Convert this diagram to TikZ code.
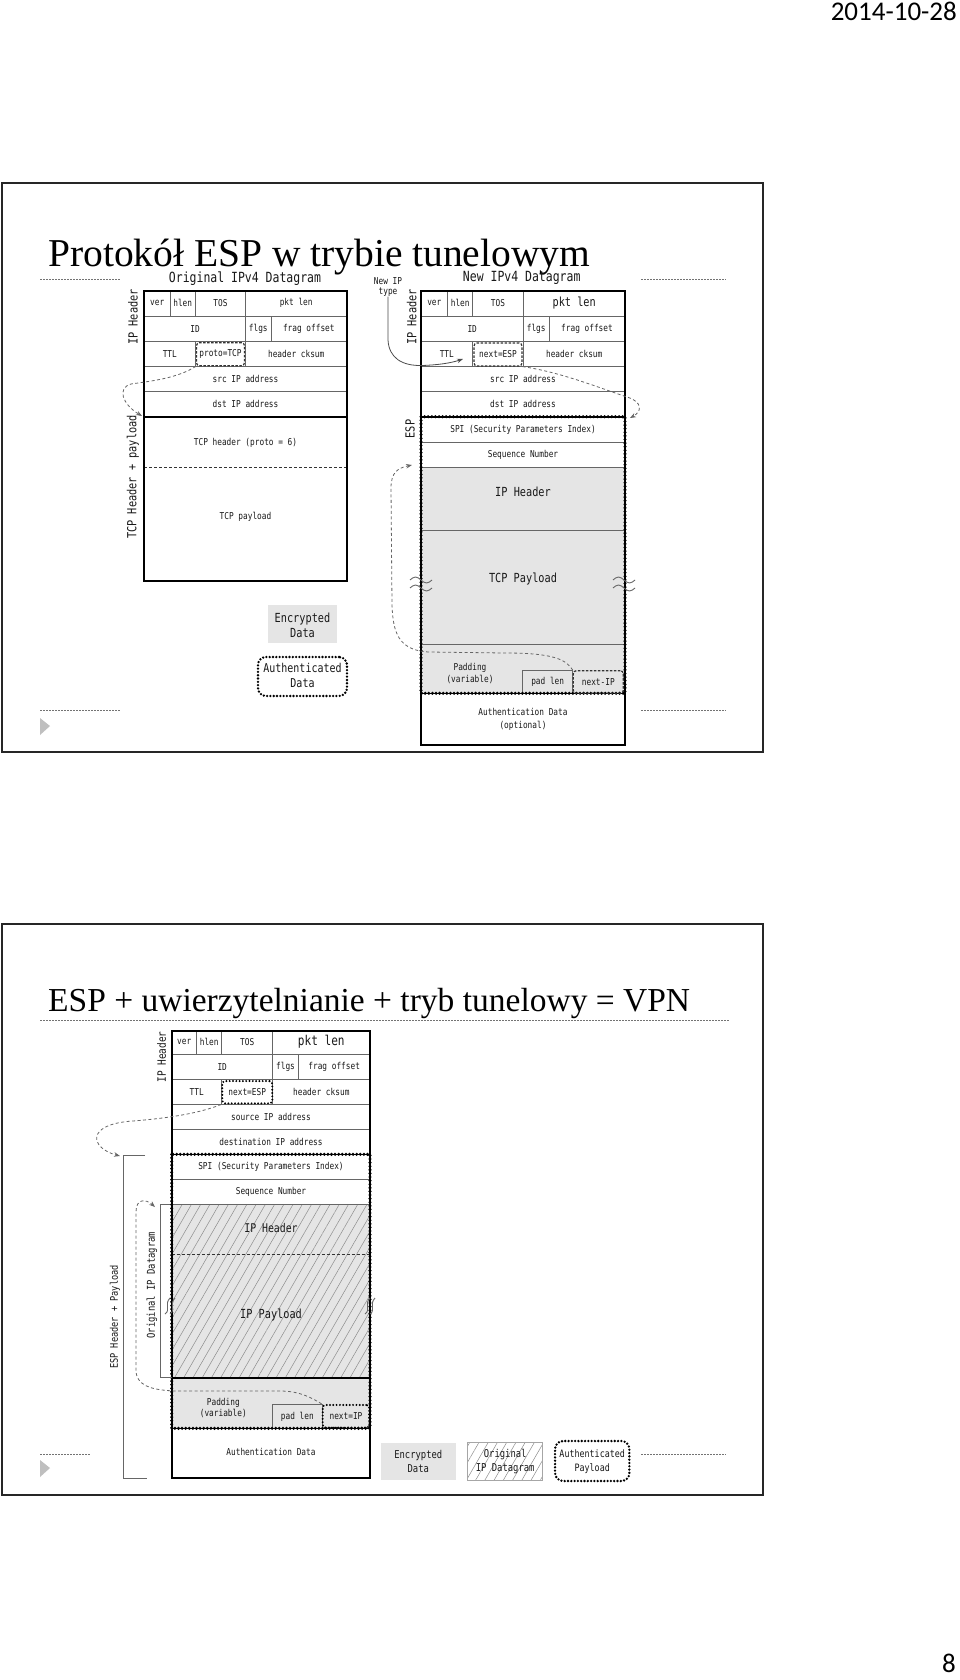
\documentclass[tikz,border=0pt]{standalone}
\usepackage{fontspec}
\setmainfont{Liberation Serif}
\newfontfamily\dm[FakeStretch=0.82]{DejaVu Sans Mono}
\newfontfamily\calf{Carlito}
\usetikzlibrary{arrows.meta,patterns.meta}
\begin{document}
\begin{tikzpicture}[x=1pt,y=-1pt,
 lbl/.style={font=\dm\fontsize{9.5}{11.5}\selectfont, text=black!90, inner sep=0pt, align=center},
 lblb/.style={font=\dm\fontsize{12.5}{14.5}\selectfont, text=black!90, inner sep=0pt, align=center},
 lblm/.style={font=\dm\fontsize{11}{12.5}\selectfont, text=black!90, inner sep=0pt, align=center},
 ttlf/.style={font=\dm\fontsize{14}{16}\selectfont, text=black!90, inner sep=0pt},
 grid/.style={draw=black!60, line width=0.8pt},
 outer/.style={draw=black, line width=2.2pt},
 sepl/.style={draw=black!80, dash pattern=on 3pt off 2pt, line width=0.9pt},
 espdots/.style={draw=black, line width=3.4pt, dash pattern=on 0pt off 3.6pt, line cap=round},
 espline/.style={draw=black, line width=1.6pt},
 dashbox/.style={draw=black!80, line width=1.2pt, dash pattern=on 2.5pt off 1.5pt, rounded corners=3pt, inner sep=0pt},
 dotbox/.style={draw=black, line width=2.6pt, dash pattern=on 0pt off 3.3pt, line cap=round, rounded corners=5pt, inner sep=0pt},
 darrow/.style={draw=black!60, line width=0.8pt, dash pattern=on 3pt off 2.5pt, -{Stealth[length=6pt,width=4.5pt]}},
 sarrow/.style={draw=black!70, line width=0.8pt, -{Stealth[length=6pt,width=4.5pt]}},
 enc/.style={fill=black!10},
 slideframe/.style={draw=black!85, line width=1.6pt},
 rulel/.style={draw=black!55, line width=0.6pt, dash pattern=on 1.5pt off 1.5pt},
 tri/.style={fill=black!25, draw=none},
 brk/.style={draw=black!60, line width=0.9pt},
 hatch/.style={pattern={Lines[angle=60,distance=8pt,line width=0.5pt]}, pattern color=black!45},
]
\useasboundingbox (0,0) rectangle (960,1680);
\fill[white] (0,0) rectangle (960,1680);

% ---------- page texts ----------
\node[font=\calf\fontsize{27}{30}\selectfont, anchor=base east, inner sep=0pt] (date) at (957,21) {2014-10-28};
\node[font=\calf\fontsize{27}{30}\selectfont, anchor=base east, inner sep=0pt] (pnum) at (956,1672) {8};

% =============== SLIDE 1 ===============
\draw[slideframe] (2,183) rectangle (763,752);
\node[font=\fontsize{39.5}{42}\selectfont, anchor=base west, inner sep=0pt] (t1) at (48,266) {Protokół ESP w trybie tunelowym};
\draw[rulel] (40,279) -- (120,279);
\draw[rulel] (641,279) -- (726,279);
\draw[rulel] (40,710) -- (120,710);
\draw[rulel] (641,710) -- (726,710);
\fill[tri] (40,718) -- (50,726) -- (40,735) -- cycle;

% ---- left: original datagram ----
\node[ttlf] (otitle) at (245,279) {Original IPv4 Datagram};
\draw[grid] (144.3,316) -- (346.7,316) (144.3,341.3) -- (346.7,341.3) (144.3,366.7) -- (346.7,366.7) (144.3,391.7) -- (346.7,391.7);
\draw[grid] (170,290.7) -- (170,316) (195.3,290.7) -- (195.3,316) (245.7,290.7) -- (245.7,316);
\draw[grid] (245.7,316) -- (245.7,341.3) (271,316) -- (271,341.3);
\draw[grid] (195.3,341.3) -- (195.3,366.7) (245.7,341.3) -- (245.7,366.7);
\draw[sepl] (144.3,467.3) -- (346.7,467.3);
\draw[outer] (144.3,290.7) rectangle (346.7,580.7);
\draw[outer] (144.3,416.7) -- (346.7,416.7);
\node[lbl] (over) at (157.2,303.3) {ver};
\node[lbl] (ohlen) at (182.7,303.3) {hlen};
\node[lbl] (otos) at (220.5,303.3) {TOS};
\node[lbl] (opkt) at (296.2,303.3) {pkt len};
\node[lbl] (oid) at (195,328.7) {ID};
\node[lbl] (oflgs) at (258.3,328.7) {flgs};
\node[lbl] (ofrag) at (308.8,328.7) {frag offset};
\node[lbl] (ottl) at (169.8,354) {TTL};
\node[dashbox, minimum width=48pt, minimum height=23pt] (proto) at (220.5,354.2) {};
\node[lbl] (protot) at (220.5,354) {proto=TCP};
\node[lbl] (ocks) at (296.2,354) {header cksum};
\node[lbl] (osrc) at (245.5,379.2) {src IP address};
\node[lbl] (odst) at (245.5,404.2) {dst IP address};
\node[lbl] (otcph) at (245.5,442.7) {TCP header (proto = 6)};
\node[lbl] (otcpp) at (245.5,517.3) {TCP payload};
\node[lblb, rotate=90] (oiph) at (133,317) {IP Header};
\node[lblb, rotate=90] (otcplab) at (133,477) {TCP Header + payload};
\coordinate (tcptop) at (142,416);
\draw[darrow] (proto.south west) .. controls (178,378) and (152,381) .. (131,384) .. controls (117,388) and (122,404) .. (tcptop);

% ---- right: new datagram ----
\fill[enc] (421,467.3) rectangle (625,693.3);
\node[ttlf] (ntitle) at (521.7,278.3) {New IPv4 Datagram};
\draw[grid] (421,316) -- (625,316) (421,341.7) -- (625,341.7) (421,366.7) -- (625,366.7) (421,391.7) -- (625,391.7);
\draw[grid] (421,442.3) -- (625,442.3) (421,467.3) -- (625,467.3) (421,530) -- (625,530) (421,644) -- (625,644);
\draw[grid] (447.7,290.7) -- (447.7,316) (472.7,290.7) -- (472.7,316) (523.3,290.7) -- (523.3,316);
\draw[grid] (523.3,316) -- (523.3,341.7) (549,316) -- (549,341.7);
\draw[grid] (472.7,341.7) -- (472.7,366.7) (523.3,341.7) -- (523.3,366.7);
\draw[grid] (522.7,693.3) -- (522.7,670) -- (572.7,670) -- (572.7,693.3);
\draw[outer] (421,290.7) rectangle (625,745);
\draw[espline] (421,416.7) rectangle (625,693.3);
\draw[espdots] (421,416.7) rectangle (625,693.3);
\node[lbl] (nver) at (434.3,303.3) {ver};
\node[lbl] (nhlen) at (460.2,303.3) {hlen};
\node[lbl] (ntos) at (498,303.3) {TOS};
\node[lblb] (npkt) at (574.2,303) {pkt len};
\node[lbl] (nid) at (472.2,328.8) {ID};
\node[lbl] (nflgs) at (536.2,328.8) {flgs};
\node[lbl] (nfrag) at (587,328.8) {frag offset};
\node[lbl] (nttl) at (446.8,354.2) {TTL};
\node[dashbox, minimum width=48pt, minimum height=23pt] (nextesp) at (498,354.5) {};
\node[lbl] (nextespt) at (498,354.2) {next=ESP};
\node[lbl] (ncks) at (574.2,354.2) {header cksum};
\node[lbl] (nsrc) at (523,379.2) {src IP address};
\node[lbl] (ndst) at (523,404.2) {dst IP address};
\node[lbl] (nspi) at (523,429.5) {SPI (Security Parameters Index)};
\node[lbl] (nseq) at (523,454.8) {Sequence Number};
\node[lblb] (niph) at (523,491.7) {IP Header};
\node[lblb] (ntcpp) at (523,579.3) {TCP Payload};
\node[lbl] (npad) at (470,673.7) {Padding\\(variable)};
\node[lbl] (npadlen) at (547.7,682) {pad len};
\node[dashbox, minimum width=50pt, minimum height=22.6pt] (nextip) at (598.3,682) {};
\node[lbl] (nextipt) at (598.3,682) {next-IP};
\node[lbl, font=\dm\fontsize{9.5}{12.4}\selectfont] (nauth) at (523,719.5) {Authentication Data\\(optional)};
\node[lblb, rotate=90] (niphl) at (411.7,317) {IP Header};
\node[lblb, rotate=90] (nespl) at (410,429) {ESP};
\node[lbl, font=\dm\fontsize{9.5}{10}\selectfont] (newip) at (388,287) {New IP\\type};
% wavy breaks
\draw[brk] (410,580) sin (415.5,577) cos (421,580) sin (426.5,583) cos (432,580);
\draw[brk] (410,588) sin (415.5,585) cos (421,588) sin (426.5,591) cos (432,588);
\draw[brk] (613,580) sin (618.5,577) cos (624,580) sin (629.5,583) cos (635,580);
\draw[brk] (613,588) sin (618.5,585) cos (624,588) sin (629.5,591) cos (635,588);
% connectors
\coordinate (ttlin) at (463,359);
\draw[sarrow] (newip.south) -- (388,340) .. controls (389,358) and (402,366) .. (422,365.5) .. controls (438,365) and (451,363) .. (ttlin);
\coordinate (esptr) at (630,418);
\draw[darrow] (nextesp.south east) .. controls (560,372) and (600,388) .. (624,396) .. controls (645,402) and (641,412) .. (esptr);
\coordinate (iphin) at (412,465);
\draw[darrow] (nextip.north west) .. controls (566,659) and (552,653) .. (505,653) -- (428,652) .. controls (398,650) and (393,632) .. (392,605) -- (391,488) .. controls (391,472) and (398,468) .. (iphin);

% ---- legend slide 1 ----
\node[enc, minimum width=69pt, minimum height=38pt, inner sep=0pt] (encl1) at (302.5,624) {};
\node[lblb, font=\dm\fontsize{12.5}{14.7}\selectfont] (encl1t) at (302.5,625) {Encrypted\\Data};
\node[dotbox, rounded corners=8pt, minimum width=89pt, minimum height=39pt] (authl1) at (302.5,676.5) {};
\node[lblb, font=\dm\fontsize{12.2}{15.6}\selectfont] (authl1t) at (302.5,675.5) {Authenticated\\Data};

% =============== SLIDE 2 ===============
\draw[slideframe] (2,924) rectangle (763,1495);
\node[font=\fontsize{33.5}{36}\selectfont, anchor=base west, inner sep=0pt] (t2) at (48,1011) {ESP + uwierzytelnianie + tryb tunelowy = VPN};
\draw[rulel] (40,1020) -- (729,1020);
\draw[rulel] (40,1454) -- (91,1454);
\draw[rulel] (641,1454) -- (726,1454);
\fill[tri] (40,1460) -- (50,1468) -- (40,1477) -- cycle;

% fills
\fill[enc] (171.7,1204.3) rectangle (370,1428.3);
\path[hatch] (171.7,1204.3) rectangle (370,1377.7);
% grid
\draw[grid] (171.7,1054) -- (370,1054) (171.7,1079.3) -- (370,1079.3) (171.7,1104.3) -- (370,1104.3) (171.7,1129.3) -- (370,1129.3);
\draw[grid] (171.7,1179.3) -- (370,1179.3) (171.7,1204.3) -- (370,1204.3);
\draw[grid] (196.7,1030.7) -- (196.7,1054) (221.7,1030.7) -- (221.7,1054) (272.7,1030.7) -- (272.7,1054);
\draw[grid] (272.7,1054) -- (272.7,1079.3) (298.3,1054) -- (298.3,1079.3);
\draw[grid] (221.7,1079.3) -- (221.7,1104.3) (272.7,1079.3) -- (272.7,1104.3);
\draw[grid] (272.3,1428.3) -- (272.3,1404.3) -- (322.3,1404.3) -- (322.3,1428.3);
\draw[sepl] (171.7,1254) -- (370,1254);
\draw[outer] (171.7,1030.7) rectangle (370,1478.3);
\draw[outer] (171.7,1377.7) -- (370,1377.7);
\draw[espline] (171.7,1154.3) rectangle (370,1428.3);
\draw[espdots] (171.7,1154.3) rectangle (370,1428.3);
\node[lbl] (sver) at (184.2,1042.3) {ver};
\node[lbl] (shlen) at (209.2,1042.3) {hlen};
\node[lbl] (stos) at (247.2,1042.3) {TOS};
\node[lblb, font=\dm\fontsize{13.5}{15}\selectfont] (spkt) at (321.3,1042) {pkt len};
\node[lbl] (sid) at (222.2,1066.7) {ID};
\node[lbl] (sflgs) at (285.5,1066.7) {flgs};
\node[lbl] (sfrag) at (334.2,1066.7) {frag offset};
\node[lbl] (sttl) at (196.7,1091.8) {TTL};
\node[dotbox, line width=2.2pt, rounded corners=3pt, minimum width=50pt, minimum height=22.3pt] (nextesp2) at (247.3,1092.2) {};
\node[lbl] (nextesp2t) at (247.2,1091.8) {next=ESP};
\node[lbl] (scks) at (321.3,1091.8) {header cksum};
\node[lbl] (ssrc) at (271,1116.8) {source IP address};
\node[lbl] (sdst) at (271,1141.8) {destination IP address};
\node[lbl] (sspi) at (271,1166.8) {SPI (Security Parameters Index)};
\node[lbl] (sseq) at (271,1191.8) {Sequence Number};
\node[lblm, font=\dm\fontsize{12}{13}\selectfont] (siph) at (271,1228.3) {IP Header};
\node[lblm, font=\dm\fontsize{12.5}{13}\selectfont] (sipp) at (271,1315) {IP Payload};
\node[lbl, font=\dm\fontsize{9.5}{11.7}\selectfont] (spad) at (223.3,1408) {Padding\\(variable)};
\node[lbl] (spadlen) at (297.3,1416.5) {pad len};
\node[dotbox, line width=2.2pt, rounded corners=3pt, minimum width=46.6pt, minimum height=22.7pt] (nextip2) at (346,1416.3) {};
\node[lbl] (nextip2t) at (346,1416.5) {next=IP};
\node[lbl] (sauth) at (271,1452.3) {Authentication Data};
% side labels
\node[lblm, rotate=90, font=\dm\fontsize{11.5}{13}\selectfont] (siphl) at (161.7,1057) {IP Header};
\node[lblm, rotate=90, font=\dm\fontsize{10.5}{12}\selectfont] (sespl) at (115,1317) {ESP Header + Payload};
\node[lblm, rotate=90, font=\dm\fontsize{10.8}{12}\selectfont] (sorigl) at (152,1285) {Original IP Datagram};
% brackets
\draw[brk] (145,1155) -- (123.3,1155) -- (123.3,1478.3) -- (146.7,1478.3);
\draw[brk] (170,1204.3) -- (160.7,1204.3) -- (160.7,1377.7) -- (171.7,1377.7);
% wavy breaks
\draw[brk] (165,1314) .. controls (171,1310) and (164,1304) .. (170,1298);
\draw[brk] (170,1314) .. controls (176,1310) and (169,1304) .. (175,1298);
\draw[brk] (365,1314) .. controls (371,1310) and (364,1304) .. (370,1298);
\draw[brk] (370,1314) .. controls (376,1310) and (369,1304) .. (375,1298);
% connectors
\coordinate (esptop) at (120,1156);
\draw[darrow] (nextesp2.south west) .. controls (200,1113) and (170,1118) .. (133,1121) .. controls (85,1124) and (90,1148) .. (esptop);
\coordinate (origtop) at (155,1207);
\draw[darrow] (nextip2.north west) .. controls (312,1398) and (300,1391) .. (280,1391) -- (175,1391) .. controls (150,1390) and (136,1385) .. (136,1370) -- (136,1212) .. controls (136,1198) and (146,1199) .. (origtop);

% ---- legend slide 2 ----
\node[enc, minimum width=75.3pt, minimum height=37.3pt, inner sep=0pt] (encl2) at (418.3,1461.3) {};
\node[lblm, font=\dm\fontsize{10.8}{14}\selectfont] (encl2t) at (418.3,1461.3) {Encrypted\\Data};
\node[draw=black!35, line width=0.6pt, hatch, minimum width=75pt, minimum height=37.3pt, inner sep=0pt] (hatl2) at (505.2,1461.3) {};
\node[lblm, font=\dm\fontsize{10.8}{14}\selectfont] (hatl2t) at (505.2,1461.3) {Original\\IP Datagram};
\node[dotbox, rounded corners=8pt, minimum width=74.3pt, minimum height=40pt] (authl2) at (592.2,1461) {};
\node[lblm, font=\dm\fontsize{10.2}{14}\selectfont] (authl2t) at (592.2,1461.3) {Authenticated\\Payload};
\end{tikzpicture}
\end{document}
